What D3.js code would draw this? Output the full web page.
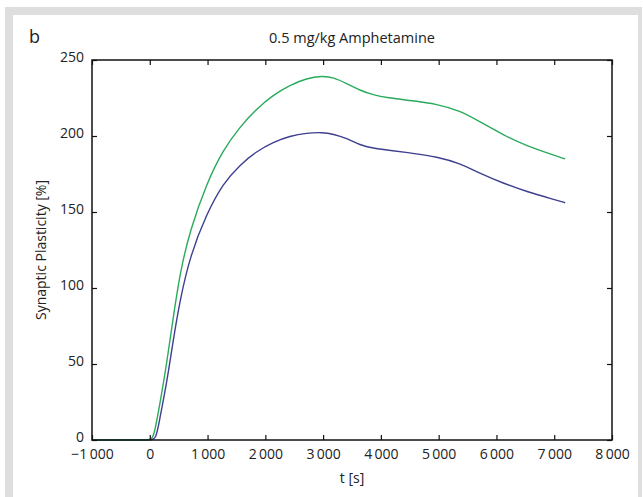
<!DOCTYPE html>
<html>
<head>
<meta charset="utf-8">
<script src="https://cdn.jsdelivr.net/npm/d3@7"></script>
<style>
  body { margin: 0; background: #fff; }
  text { font-family: "Open Sans", sans-serif; fill: #222; }
</style>
</head>
<body>
<svg id="chart"></svg>
<script>
// time points [s] and responses [%]
const timeGreen = [-1000, 0, 60, 176, 292, 407, 523, 696, 985, 1272, 1561, 1850, 2137, 2426, 2716, 2986, 3176, 3407, 3638, 3868, 4099, 4561, 4965, 5369, 5715, 6118, 6523, 6984, 7190];
const green = [0, 0, 0, 24, 50, 81, 110, 138, 169, 191, 206, 218, 227, 233.5, 238, 239.5, 238.6, 234.6, 230, 227, 225.2, 223.2, 221, 216.7, 209.4, 200.7, 193.4, 187.5, 184.9];

const timeBlue = [-1000, 0, 110, 176, 292, 407, 523, 696, 985, 1272, 1561, 1850, 2137, 2426, 2716, 2986, 3176, 3407, 3638, 3868, 4099, 4561, 4965, 5369, 5715, 6118, 6523, 6984, 7190];
const blue = [0, 0, 0, 15, 37, 66, 92, 121, 149, 169, 181, 190, 196, 200, 202, 202.4, 201.3, 198.5, 194, 191.9, 190.8, 188.6, 186.4, 182, 175.4, 168.9, 163.4, 158.3, 156.1];

const xTicks = [-1000, 0, 1000, 2000, 3000, 4000, 5000, 6000, 7000, 8000];
const yTicks = [0, 50, 100, 150, 200, 250];

const width = 643, height = 497;
const plot = { left: 92, right: 612, top: 60, bottom: 440 };

const svg = d3.select("#chart").attr("width", width).attr("height", height);

// grey frame round the panel
svg.append("rect").attr("x", 5).attr("y", 7).attr("width", 637).attr("height", 490).attr("fill", "#dedede");
svg.append("rect").attr("x", 13).attr("y", 15).attr("width", 625).attr("height", 482).attr("fill", "#fff");

const x = d3.scaleLinear().domain([-1000, 8000]).range([plot.left, plot.right]);
const y = d3.scaleLinear().domain([0, 250]).range([plot.bottom, plot.top]);

const loc = d3.formatLocale({ decimal: ".", thousands: "\u2009", grouping: [3], currency: ["", ""], minus: "\u2212" });
const fmt = loc.format(",d");

const line = d3.line().x(d => x(d[0])).y(d => y(d[1])).curve(d3.curveBasis);

svg.append("path")
    .datum(d3.zip(timeBlue, blue))
    .attr("d", line)
    .attr("fill", "none")
    .attr("stroke", "#3d3f8f")
    .attr("stroke-width", 1.4);

svg.append("path")
    .datum(d3.zip(timeGreen, green))
    .attr("d", line)
    .attr("fill", "none")
    .attr("stroke", "#2aaa5c")
    .attr("stroke-width", 1.4);

// axes, ticks pointing inward
const tickLen = 5;
svg.append("g").attr("transform", `translate(0, ${plot.bottom})`)
    .call(d3.axisBottom(x).tickValues(xTicks).tickFormat(fmt).tickSizeInner(-tickLen).tickSizeOuter(0).tickPadding(9))
    .call(g => g.select(".domain").remove());
svg.append("g").attr("transform", `translate(0, ${plot.top})`)
    .call(d3.axisTop(x).tickValues(xTicks).tickFormat("").tickSizeInner(-tickLen).tickSizeOuter(0))
    .call(g => g.select(".domain").remove());
svg.append("g").attr("class", "yaxis").attr("transform", `translate(${plot.left}, 0)`)
    .call(d3.axisLeft(y).tickValues(yTicks).tickSizeInner(-tickLen).tickSizeOuter(0).tickPadding(8))
    .call(g => g.select(".domain").remove());
svg.append("g").attr("transform", `translate(${plot.right}, 0)`)
    .call(d3.axisRight(y).tickValues(yTicks).tickFormat("").tickSizeInner(-tickLen).tickSizeOuter(0))
    .call(g => g.select(".domain").remove());

svg.selectAll(".tick line").attr("stroke", "#111").attr("stroke-width", 1.2);
svg.selectAll(".tick text").attr("font-size", 14).attr("font-family", "Open Sans, sans-serif").attr("fill", "#222");
svg.selectAll(".yaxis .tick text").attr("dy", "0.12em");

svg.append("rect")
    .attr("x", plot.left).attr("y", plot.top)
    .attr("width", plot.right - plot.left).attr("height", plot.bottom - plot.top)
    .attr("fill", "none").attr("stroke", "#111").attr("stroke-width", 1.5);

// labels
svg.append("text").attr("x", 29).attr("y", 43).attr("font-size", 18).text("b");
svg.append("text").attr("x", 352).attr("y", 43).attr("text-anchor", "middle").attr("font-size", 14.5).text("0.5 mg/kg Amphetamine");
svg.append("text").attr("x", 352).attr("y", 483).attr("text-anchor", "middle").attr("font-size", 14).text("t [s]");
svg.append("text").attr("transform", `translate(46, ${(plot.top + plot.bottom) / 2}) rotate(-90)`)
    .attr("text-anchor", "middle").attr("font-size", 14).text("Synaptic Plasticity [%]");
</script>
</body>
</html>
